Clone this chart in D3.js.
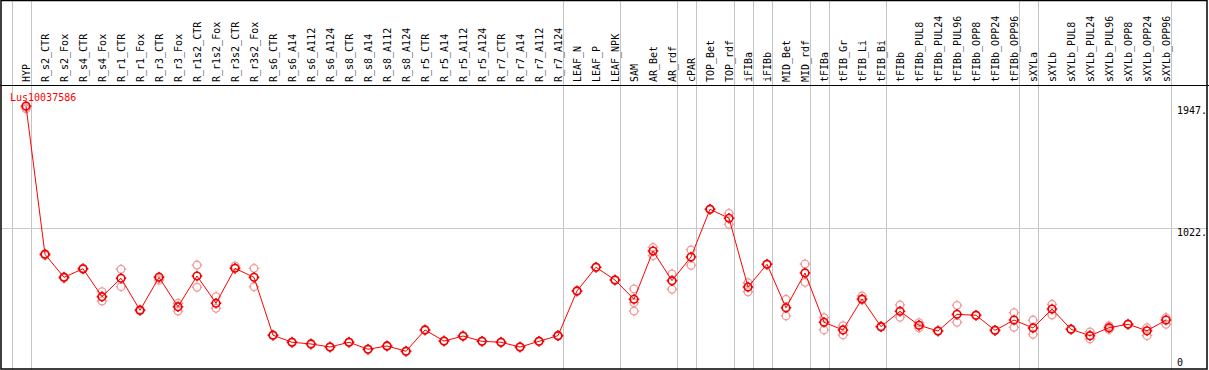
<!DOCTYPE html>
<html>
<head>
<meta charset="utf-8">
<script src="https://cdn.jsdelivr.net/npm/d3@7"></script>
<style>
  body { margin: 0; background: #fff; }
  svg { display: block; }
  text { font-family: "DejaVu Sans Mono", monospace; font-size: 10px; }
</style>
</head>
<body>
<div id="my_dataviz"></div>
<script>
var categories = ["HYP", "R_s2_CTR", "R_s2_Fox", "R_s4_CTR", "R_s4_Fox", "R_r1_CTR", "R_r1_Fox",
  "R_r3_CTR", "R_r3_Fox", "R_r1s2_CTR", "R_r1s2_Fox", "R_r3s2_CTR", "R_r3s2_Fox", "R_s6_CTR",
  "R_s6_A14", "R_s6_A112", "R_s6_A124", "R_s8_CTR", "R_s8_A14", "R_s8_A112", "R_s8_A124",
  "R_r5_CTR", "R_r5_A14", "R_r5_A112", "R_r5_A124", "R_r7_CTR", "R_r7_A14", "R_r7_A112",
  "R_r7_A124", "LEAF_N", "LEAF_P", "LEAF_NPK", "SAM", "AR_Bet", "AR_rdf", "cPAR", "TOP_Bet",
  "TOP_rdf", "iFIBa", "iFIBb", "MID_Bet", "MID_rdf", "tFIBa", "tFIB_Gr", "tFIB_Li", "tFIB_Bi",
  "tFIBb", "tFIBb_PUL8", "tFIBb_PUL24", "tFIBb_PUL96", "tFIBb_OPP8", "tFIBb_OPP24", "tFIBb_OPP96",
  "sXYLa", "sXYLb", "sXYLb_PUL8", "sXYLb_PUL24", "sXYLb_PUL96", "sXYLb_OPP8", "sXYLb_OPP24",
  "sXYLb_OPP96"];

var meanValues = [1947, 825, 651, 716, 505, 644, 402, 651, 429, 661, 455, 719, 651, 213,
  160, 147, 124, 160, 107, 132, 92, 253, 169, 207, 167, 160, 124, 167, 210,
  548, 727, 631, 485, 850, 626, 805, 1166, 1098, 578, 750, 421, 684, 311, 253, 487, 278,
  394, 288, 245, 371, 364, 250, 328, 268, 411, 258, 210, 270, 296, 247, 328];

var repValues = [[1935, 1925], [830, 818], [655, 645], [720, 712], [542, 472], [712, 580],
  [408, 398], [631, 655], [455, 396], [744, 576], [505, 417], [737, 722], [719, 580],
  [216, 210], [163, 157], [150, 144], [127, 121], [163, 157], [110, 104], [135, 129],
  [95, 89], [256, 250], [172, 166], [210, 204], [170, 164], [163, 157], [127, 121],
  [170, 164], [213, 207], [551, 545], [730, 724], [634, 628], [563, 459, 396], [878, 815],
  [677, 561], [858, 742], [1169, 1163], [1135, 1052], [610, 542], [753, 747], [485, 359],
  [752, 613], [346, 253], [285, 215], [510, 480], [281, 275], [442, 349], [308, 268],
  [248, 242], [439, 311], [367, 361], [253, 247], [384, 273], [328, 220], [447, 366],
  [261, 255], [238, 185], [285, 256], [299, 293], [270, 210], [346, 296]];

// index of the last sample in each group (-1 = left edge)
var groupEnds = [-1, 0, 28, 31, 34, 35, 37, 38, 39, 41, 42, 45, 52, 53, 60];

var yTicks = [0, 1022, 1947];
var yGrid = [1022];
var geneName = "Lus10037586";

var width = 1209, height = 370;
var headerBottom = 85;

var svg = d3.select("#my_dataviz")
  .append("svg")
  .attr("width", width)
  .attr("height", height);

var x = d3.scalePoint()
  .domain(categories)
  .range([26, 1166]);
var step = x.step();

var y = d3.scaleLinear()
  .domain([0, 1947])
  .range([363.4, 106]);

// vertical group separators
svg.selectAll(".vgrid")
  .data(groupEnds)
  .enter()
  .append("line")
  .attr("x1", function (d) { return Math.round(x(categories[0]) + d * step + 4.5) + 0.5; })
  .attr("x2", function (d) { return Math.round(x(categories[0]) + d * step + 4.5) + 0.5; })
  .attr("y1", 0)
  .attr("y2", height)
  .attr("stroke", "#c4c4c4")
  .attr("stroke-width", 1);

// horizontal grid
svg.selectAll(".hgrid")
  .data(yGrid)
  .enter()
  .append("line")
  .attr("x1", 1)
  .attr("x2", 1207)
  .attr("y1", function (d) { return Math.round(y(d)) + 0.5; })
  .attr("y2", function (d) { return Math.round(y(d)) + 0.5; })
  .attr("stroke", "#c8c8c8")
  .attr("stroke-width", 1);

// header separator + frame
svg.append("line")
  .attr("x1", 0).attr("x2", width)
  .attr("y1", headerBottom + 0.5).attr("y2", headerBottom + 0.5)
  .attr("stroke", "#000");
svg.append("rect")
  .attr("x", 1).attr("y", 0.5)
  .attr("width", 1206).attr("height", 368.5)
  .attr("fill", "none")
  .attr("stroke", "#000")
  .attr("stroke-width", 1.5);

// rotated category labels
svg.selectAll(".cat")
  .data(categories)
  .enter()
  .append("text")
  .attr("transform", function (d) { return "translate(" + (x(d) + 4) + "," + (headerBottom - 3) + ") rotate(-90)"; })
  .attr("text-anchor", "start")
  .attr("fill", "#000")
  .text(function (d) { return d; });

// right axis labels
svg.selectAll(".ytick")
  .data(yTicks)
  .enter()
  .append("text")
  .attr("x", 1177)
  .attr("y", function (d) { return Math.min(y(d) + 8, 366); })
  .attr("fill", "#000")
  .text(function (d) { return d === 0 ? "0" : d + "."; });

svg.append("text")
  .attr("x", 10)
  .attr("y", 101)
  .attr("fill", "#ff0000")
  .text(geneName);

var marker = function (r) {
  return "M" + (-r) + ",0a" + r + "," + r + " 0 1,0 " + (2 * r) + ",0a" + r + "," + r + " 0 1,0 " + (-2 * r) + ",0" +
    "M0," + (-r - 1.5) + "v1.5M0," + r + "v1.5M" + (-r - 1.5) + ",0h1.5M" + r + ",0h1.5";
};

// replicates
var reps = [];
repValues.forEach(function (vals, i) {
  vals.forEach(function (v) { reps.push({ cat: categories[i], value: v }); });
});
svg.selectAll(".rep")
  .data(reps)
  .enter()
  .append("path")
  .attr("transform", function (d) { return "translate(" + x(d.cat) + "," + y(d.value) + ")"; })
  .attr("d", marker(3.8))
  .attr("fill", "none")
  .attr("stroke", "#f09a9a")
  .attr("stroke-width", 1.3);

// mean line
var series = categories.map(function (c, i) { return { cat: c, value: meanValues[i] }; });
svg.append("path")
  .datum(series)
  .attr("fill", "none")
  .attr("stroke", "#ff0000")
  .attr("stroke-width", 1)
  .attr("d", d3.line()
    .x(function (d) { return x(d.cat); })
    .y(function (d) { return y(d.value); }));

svg.selectAll(".dot")
  .data(series)
  .enter()
  .append("path")
  .attr("transform", function (d) { return "translate(" + x(d.cat) + "," + y(d.value) + ")"; })
  .attr("d", marker(3.8))
  .attr("fill", "none")
  .attr("stroke", "#f00000")
  .attr("stroke-width", 1.6);
</script>
</body>
</html>
